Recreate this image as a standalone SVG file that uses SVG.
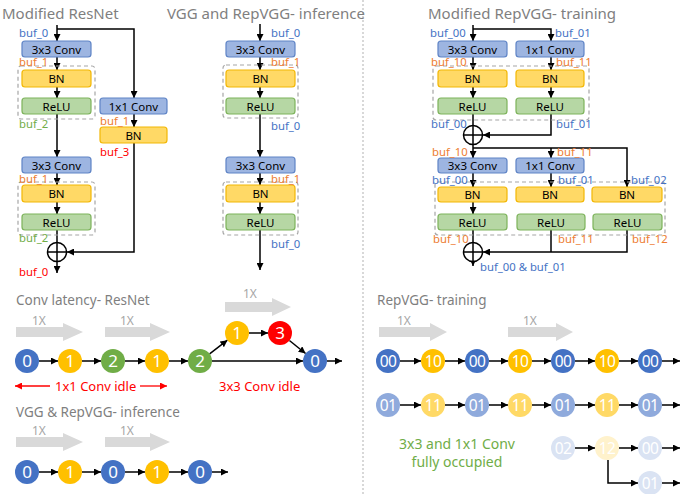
<svg xmlns="http://www.w3.org/2000/svg" width="686" height="494" viewBox="0 0 686 494">
<defs>
<marker id="ah" viewBox="0 0 10 10" refX="10" refY="5" markerWidth="7" markerHeight="7" markerUnits="userSpaceOnUse" orient="auto"><path d="M0,0 L10,5 L0,10 z" fill="#000"/></marker>
<marker id="ahr" viewBox="0 0 10 10" refX="10" refY="5" markerWidth="7" markerHeight="7" markerUnits="userSpaceOnUse" orient="auto"><path d="M0,0 L10,5 L0,10 z" fill="#FF0000"/></marker>
<style>
text{font-family:"Noto Sans","Open Sans","DejaVu Sans",sans-serif}
.title{font-size:15px;fill:#7F7F7F}
.sub{font-size:13.5px;fill:#7F7F7F}
.x1{font-size:12px;fill:#A6A6A6}
.lbl{font-size:11.5px;fill:#000;text-anchor:middle}
.buf{font-size:11.3px}
.bl{fill:#4472C4}.or{fill:#ED7D31}.gr{fill:#70AD47}.rd{fill:#FF0000}
.conv{fill:#9DB5E1;stroke:#5F84C6;stroke-width:1.2}
.bn{fill:#FFD966;stroke:#F2B705;stroke-width:1.2}
.relu{fill:#B6D7A4;stroke:#7DB35B;stroke-width:1.2}
.dash{fill:none;stroke:#A6A6A6;stroke-width:1.2;stroke-dasharray:4 3}
.ln{fill:none;stroke:#000;stroke-width:1.5}
.lna{fill:none;stroke:#000;stroke-width:1.5;marker-end:url(#ah)}
.add{fill:#fff;stroke:#000;stroke-width:1.5}
.garr{fill:#D9D9D9}
.num{font-size:17px;fill:#fff;text-anchor:middle}
.num2{font-size:15.5px;fill:#fff;text-anchor:middle;letter-spacing:-0.5px}
.cB{fill:#4472C4}.cY{fill:#FFC000}.cG{fill:#70AD47}.cR{fill:#FF0000}
.cB2{fill:#8FAADC}.cY2{fill:#FFD966}
.cB3{fill:#DAE3F3}.cY3{fill:#FFF2CC}
</style>
</defs>

<line x1="363" y1="0" x2="363" y2="494" stroke="#BFBFBF" stroke-width="1.2" stroke-dasharray="2 2"/>

<text class="title" x="2" y="19">Modified ResNet</text>
<text class="title" x="167" y="19">VGG and RepVGG- inference</text>
<text class="title" x="428" y="19">Modified RepVGG- training</text>

<g id="connectors">
<path class="lna" d="M57,25 V41"/>
<path class="lna" d="M57,29 H134 V98"/>
<path class="lna" d="M57,57 V70"/>
<path class="lna" d="M57,87 V98"/>
<path class="lna" d="M57,114 V157"/>
<path class="lna" d="M134,114 V127"/>
<path class="lna" d="M57,173 V185"/>
<path class="lna" d="M57,202 V214"/>
<path class="ln" d="M57,230 V242.5"/>
<path class="lna" d="M134,143 V252 H67"/>
<path class="lna" d="M57,261.5 V273"/>
<path class="lna" d="M260,24 V41"/>
<path class="lna" d="M260,57 V70"/>
<path class="lna" d="M260,87 V98"/>
<path class="lna" d="M260,114 V157"/>
<path class="lna" d="M260,173 V185"/>
<path class="lna" d="M260,202 V214"/>
<path class="lna" d="M260,230 V270"/>
<path class="lna" d="M473,25 V41"/>
<path class="lna" d="M473,29 H551 V41"/>
<path class="lna" d="M473,57 V70"/>
<path class="lna" d="M551,57 V70"/>
<path class="lna" d="M473,87 V98"/>
<path class="lna" d="M551,87 V98"/>
<path class="ln" d="M473,114 V125.5"/>
<path class="lna" d="M551,114 V135 H483"/>
<path class="lna" d="M473,144.5 V158"/>
<path class="lna" d="M473,148 H627 V187"/>
<path class="lna" d="M551,148 V158"/>
<path class="lna" d="M473,173 V187"/>
<path class="lna" d="M551,173 V187"/>
<path class="lna" d="M473,202 V214"/>
<path class="ln" d="M473,230 V242.5"/>
<path class="ln" d="M551,230 V252"/>
<path class="lna" d="M627,230 V252 H483"/>
<path class="lna" d="M473,261.5 V266"/>
</g>

<g id="rn-conv1"><rect class="conv" x="22" y="41" width="69" height="16" rx="3"/><text class="lbl" x="56.5" y="53.5">3x3 Conv</text></g>
<g id="rn-dash1"><rect class="dash" x="18" y="66" width="77" height="53" rx="3"/></g>
<g id="rn-bn1"><rect class="bn" x="22" y="70" width="69" height="17" rx="3"/><text class="lbl" x="56.5" y="83">BN</text></g>
<g id="rn-relu1"><rect class="relu" x="22" y="98" width="69" height="16" rx="3"/><text class="lbl" x="56.5" y="110.5">ReLU</text></g>
<g id="rn-conv1x1"><rect class="conv" x="100" y="98" width="67" height="16" rx="3"/><text class="lbl" x="133.5" y="110.5">1x1 Conv</text></g>
<g id="rn-bn-sc"><rect class="bn" x="100" y="127" width="67" height="16" rx="3"/><text class="lbl" x="133.5" y="139.5">BN</text></g>
<g id="rn-conv2"><rect class="conv" x="22" y="157" width="69" height="16" rx="3"/><text class="lbl" x="56.5" y="169.5">3x3 Conv</text></g>
<g id="rn-dash2"><rect class="dash" x="18" y="182" width="77" height="53" rx="3"/></g>
<g id="rn-bn2"><rect class="bn" x="22" y="185" width="69" height="17" rx="3"/><text class="lbl" x="56.5" y="198">BN</text></g>
<g id="rn-relu2"><rect class="relu" x="22" y="214" width="69" height="16" rx="3"/><text class="lbl" x="56.5" y="226.5">ReLU</text></g>
<g id="rn-add"><circle class="add" cx="57" cy="252" r="9.5"/><path class="ln" d="M47.5,252 H66.5 M57,242.5 V261.5"/></g>
<g id="rn-labels">
<text class="buf bl" x="19" y="37">buf_0</text>
<text class="buf or" x="19" y="66">buf_1</text>
<text class="buf gr" x="19" y="128">buf_2</text>
<text class="buf or" x="100" y="124.5">buf_1</text>
<text class="buf rd" x="100" y="156">buf_3</text>
<text class="buf or" x="19" y="182.5">buf_1</text>
<text class="buf gr" x="19" y="242">buf_2</text>
<text class="buf rd" x="19" y="276">buf_0</text>
</g>

<g id="vg-conv1"><rect class="conv" x="226" y="41" width="69" height="16" rx="3"/><text class="lbl" x="260.5" y="53.5">3x3 Conv</text></g>
<g id="vg-dash1"><rect class="dash" x="223" y="65" width="75" height="53" rx="3"/></g>
<g id="vg-bn1"><rect class="bn" x="226" y="70" width="69" height="17" rx="3"/><text class="lbl" x="260.5" y="83">BN</text></g>
<g id="vg-relu1"><rect class="relu" x="226" y="98" width="69" height="16" rx="3"/><text class="lbl" x="260.5" y="110.5">ReLU</text></g>
<g id="vg-conv2"><rect class="conv" x="226" y="157" width="69" height="16" rx="3"/><text class="lbl" x="260.5" y="169.5">3x3 Conv</text></g>
<g id="vg-dash2"><rect class="dash" x="223" y="182" width="75" height="53" rx="3"/></g>
<g id="vg-bn2"><rect class="bn" x="226" y="185" width="69" height="17" rx="3"/><text class="lbl" x="260.5" y="198">BN</text></g>
<g id="vg-relu2"><rect class="relu" x="226" y="214" width="69" height="16" rx="3"/><text class="lbl" x="260.5" y="226.5">ReLU</text></g>
<g id="vg-labels">
<text class="buf bl" x="271" y="37">buf_0</text>
<text class="buf or" x="271" y="66">buf_1</text>
<text class="buf bl" x="271" y="130">buf_0</text>
<text class="buf or" x="271" y="183">buf_1</text>
<text class="buf bl" x="271" y="248">buf_0</text>
</g>

<g id="rt-conv3"><rect class="conv" x="438" y="41" width="69" height="16" rx="3"/><text class="lbl" x="472.5" y="53.5">3x3 Conv</text></g>
<g id="rt-conv1"><rect class="conv" x="516" y="41" width="68" height="16" rx="3"/><text class="lbl" x="550" y="53.5">1x1 Conv</text></g>
<g id="rt-dash1"><rect class="dash" x="433" y="66" width="156" height="54" rx="3"/></g>
<g id="rt-bn1a"><rect class="bn" x="438" y="70" width="69" height="17" rx="3"/><text class="lbl" x="472.5" y="83">BN</text></g>
<g id="rt-bn1b"><rect class="bn" x="516" y="70" width="68" height="17" rx="3"/><text class="lbl" x="550" y="83">BN</text></g>
<g id="rt-relu1a"><rect class="relu" x="438" y="98" width="69" height="16" rx="3"/><text class="lbl" x="472.5" y="110.5">ReLU</text></g>
<g id="rt-relu1b"><rect class="relu" x="516" y="98" width="68" height="16" rx="3"/><text class="lbl" x="550" y="110.5">ReLU</text></g>
<g id="rt-add1"><circle class="add" cx="473" cy="135" r="9.5"/><path class="ln" d="M463.5,135 H482.5 M473,125.5 V144.5"/></g>
<g id="rt-conv3b"><rect class="conv" x="438" y="158" width="69" height="15" rx="3"/><text class="lbl" x="472.5" y="170">3x3 Conv</text></g>
<g id="rt-conv1b"><rect class="conv" x="516" y="158" width="68" height="15" rx="3"/><text class="lbl" x="550" y="170">1x1 Conv</text></g>
<g id="rt-dash2"><rect class="dash" x="435" y="182" width="230" height="53" rx="3"/></g>
<g id="rt-bn2a"><rect class="bn" x="438" y="187" width="69" height="15" rx="3"/><text class="lbl" x="472.5" y="199">BN</text></g>
<g id="rt-bn2b"><rect class="bn" x="516" y="187" width="68" height="15" rx="3"/><text class="lbl" x="550" y="199">BN</text></g>
<g id="rt-bn2c"><rect class="bn" x="592" y="187" width="70" height="15" rx="3"/><text class="lbl" x="627" y="199">BN</text></g>
<g id="rt-relu2a"><rect class="relu" x="438" y="214" width="69" height="16" rx="3"/><text class="lbl" x="472.5" y="226.5">ReLU</text></g>
<g id="rt-relu2b"><rect class="relu" x="517" y="214" width="68" height="16" rx="3"/><text class="lbl" x="551" y="226.5">ReLU</text></g>
<g id="rt-relu2c"><rect class="relu" x="593" y="214" width="69" height="16" rx="3"/><text class="lbl" x="627.5" y="226.5">ReLU</text></g>
<g id="rt-add2"><circle class="add" cx="473" cy="252" r="9.5"/><path class="ln" d="M463.5,252 H482.5 M473,242.5 V261.5"/></g>
<g id="rt-labels">
<text class="buf bl" x="430" y="37">buf_00</text>
<text class="buf bl" x="555" y="37">buf_01</text>
<text class="buf or" x="431" y="66">buf_10</text>
<text class="buf or" x="556" y="66">buf_11</text>
<text class="buf bl" x="431" y="128">buf_00</text>
<text class="buf bl" x="556" y="128">buf_01</text>
<text class="buf or" x="432" y="156">buf_10</text>
<text class="buf or" x="557" y="156">buf_11</text>
<text class="buf bl" x="432" y="184">buf_00</text>
<text class="buf bl" x="558" y="184">buf_01</text>
<text class="buf bl" x="631" y="184">buf_02</text>
<text class="buf or" x="433" y="243">buf_10</text>
<text class="buf or" x="558" y="243">buf_11</text>
<text class="buf or" x="632" y="243">buf_12</text>
<text class="buf bl" x="480" y="271">buf_00 &amp; buf_01</text>
</g>

<text class="sub" x="16" y="305">Conv latency- ResNet</text>
<g id="lat-speed">
<text class="x1" x="32" y="325">1X</text>
<polygon class="garr" points="16,327 63,327 63,323 83,332 63,341 63,337 16,337"/>
<text class="x1" x="120" y="325">1X</text>
<polygon class="garr" points="105,327 150,327 150,323 170,332 150,341 150,337 105,337"/>
<text class="x1" x="243" y="298">1X</text>
<polygon class="garr" points="225,302 272,302 272,298 291,307 272,316 272,312 225,312"/>
</g>
<g id="lat-conn">
<path class="lna" d="M39,361 H58"/>
<path class="lna" d="M82,361 H101"/>
<path class="lna" d="M125,361 H145"/>
<path class="lna" d="M169,361 H188"/>
<path class="lna" d="M209.6,353.8 L227.4,340.2"/>
<path class="lna" d="M249,333 H268"/>
<path class="lna" d="M289.4,340.5 L305.6,353.5"/>
<path class="lna" d="M212,361 H303"/>
<path class="lna" d="M327,361 H342"/>
</g>
<g id="lat-nodes">
<circle class="cB" cx="27" cy="361" r="12"/><text class="num" x="27" y="367">0</text>
<circle class="cY" cx="70" cy="361" r="12"/><text class="num" x="70" y="367">1</text>
<circle class="cG" cx="113" cy="361" r="12"/><text class="num" x="113" y="367">2</text>
<circle class="cY" cx="157" cy="361" r="12"/><text class="num" x="157" y="367">1</text>
<circle class="cG" cx="200" cy="361" r="12"/><text class="num" x="200" y="367">2</text>
<circle class="cY" cx="237" cy="333" r="12"/><text class="num" x="237" y="339">1</text>
<circle class="cR" cx="280" cy="333" r="12"/><text class="num" x="280" y="339">3</text>
<circle class="cB" cx="315" cy="361" r="12"/><text class="num" x="315" y="367">0</text>
</g>
<g id="lat-idle">
<path d="M50,386 H15" stroke="#FF0000" stroke-width="1.3" marker-end="url(#ahr)"/>
<text x="55" y="391" font-size="13" fill="#FF0000">1x1 Conv idle</text>
<path d="M140,386 H167" stroke="#FF0000" stroke-width="1.3" marker-end="url(#ahr)"/>
<text x="219" y="391" font-size="13" fill="#FF0000">3x3 Conv idle</text>
</g>

<text class="sub" x="16" y="417">VGG &amp; RepVGG- inference</text>
<g id="inf-speed">
<text class="x1" x="32" y="435">1X</text>
<polygon class="garr" points="16,437 63,437 63,433 83,442 63,451 63,447 16,447"/>
<text class="x1" x="120" y="435">1X</text>
<polygon class="garr" points="105,437 150,437 150,433 170,442 150,451 150,447 105,447"/>
</g>
<g id="inf-conn">
<path class="lna" d="M39,472 H58"/>
<path class="lna" d="M82,472 H101"/>
<path class="lna" d="M125,472 H145"/>
<path class="lna" d="M169,472 H188"/>
<path class="lna" d="M212,472 H228"/>
</g>
<g id="inf-nodes">
<circle class="cB" cx="27" cy="472" r="12"/><text class="num" x="27" y="478">0</text>
<circle class="cY" cx="70" cy="472" r="12"/><text class="num" x="70" y="478">1</text>
<circle class="cB" cx="113" cy="472" r="12"/><text class="num" x="113" y="478">0</text>
<circle class="cY" cx="157" cy="472" r="12"/><text class="num" x="157" y="478">1</text>
<circle class="cB" cx="200" cy="472" r="12"/><text class="num" x="200" y="478">0</text>
</g>

<text class="sub" x="377" y="305">RepVGG- training</text>
<g id="tr-speed">
<text class="x1" x="397" y="325">1X</text>
<polygon class="garr" points="379,327 430,327 430,323 447,332 430,341 430,337 379,337"/>
<text class="x1" x="523" y="325">1X</text>
<polygon class="garr" points="508,327 556,327 556,323 573,332 556,341 556,337 508,337"/>
</g>
<g id="tr-conn">
<path class="lna" d="M400,361 H421"/>
<path class="lna" d="M445,361 H465"/>
<path class="lna" d="M489,361 H508"/>
<path class="lna" d="M532,361 H551"/>
<path class="lna" d="M575,361 H595"/>
<path class="lna" d="M619,361 H638"/>
<path class="lna" d="M662,361 H680"/>
<path class="lna" d="M400,405 H421"/>
<path class="lna" d="M445,405 H465"/>
<path class="lna" d="M489,405 H508"/>
<path class="lna" d="M532,405 H551"/>
<path class="lna" d="M575,405 H595"/>
<path class="lna" d="M619,405 H638"/>
<path class="lna" d="M662,405 H680"/>
<path class="lna" d="M575,448 H595"/>
<path class="lna" d="M619,448 H638"/>
<path class="lna" d="M662,448 H680"/>
<path class="lna" d="M608,460 V483 H638"/>
<path class="lna" d="M662,483 H680"/>
</g>
<g id="tr-row1">
<circle class="cB" cx="388" cy="361" r="12"/><text class="num2" x="388" y="367">00</text>
<circle class="cY" cx="433" cy="361" r="12"/><text class="num2" x="433" y="367">10</text>
<circle class="cB" cx="477" cy="361" r="12"/><text class="num2" x="477" y="367">00</text>
<circle class="cY" cx="520" cy="361" r="12"/><text class="num2" x="520" y="367">10</text>
<circle class="cB" cx="563" cy="361" r="12"/><text class="num2" x="563" y="367">00</text>
<circle class="cY" cx="607" cy="361" r="12"/><text class="num2" x="607" y="367">10</text>
<circle class="cB" cx="650" cy="361" r="12"/><text class="num2" x="650" y="367">00</text>
</g>
<g id="tr-row2">
<circle class="cB2" cx="388" cy="405" r="12"/><text class="num2" x="388" y="411">01</text>
<circle class="cY2" cx="433" cy="405" r="12"/><text class="num2" x="433" y="411">11</text>
<circle class="cB2" cx="477" cy="405" r="12"/><text class="num2" x="477" y="411">01</text>
<circle class="cY2" cx="520" cy="405" r="12"/><text class="num2" x="520" y="411">11</text>
<circle class="cB2" cx="563" cy="405" r="12"/><text class="num2" x="563" y="411">01</text>
<circle class="cY2" cx="607" cy="405" r="12"/><text class="num2" x="607" y="411">11</text>
<circle class="cB2" cx="650" cy="405" r="12"/><text class="num2" x="650" y="411">01</text>
</g>
<g id="tr-row3">
<circle class="cB3" cx="563" cy="448" r="12"/><text class="num2" x="563" y="454">02</text>
<circle class="cY3" cx="607" cy="448" r="12"/><text class="num2" x="607" y="454">12</text>
<circle class="cB3" cx="650" cy="448" r="12"/><text class="num2" x="650" y="454">00</text>
<circle class="cB3" cx="650" cy="483" r="12"/><text class="num2" x="650" y="489">01</text>
</g>
<g id="tr-note">
<text x="457" y="449" font-size="14" fill="#70AD47" text-anchor="middle">3x3 and 1x1 Conv</text>
<text x="457" y="467" font-size="14" fill="#70AD47" text-anchor="middle">fully occupied</text>
</g>
</svg>
